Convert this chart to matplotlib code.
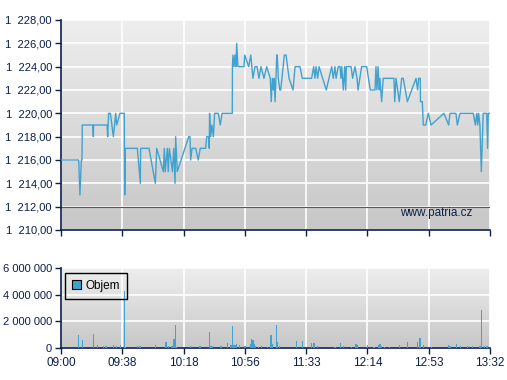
import numpy as np
import matplotlib
matplotlib.use("Agg")
import matplotlib.pyplot as plt
from matplotlib.colors import LinearSegmentedColormap
from matplotlib.patches import Patch

plt.rcParams['font.family'] = ['Liberation Sans', 'DejaVu Sans']

# minutes after 09:00 and last price
price_t = [0.0, 11.2, 12.0, 12.9, 13.3, 13.5, 20.1, 20.5, 20.7, 29.2, 29.6, 30.2, 31.3,
           33.2, 34.7, 35.3, 37.4, 40.1, 40.4, 40.8, 48.4, 50.3, 50.5, 55.8, 59.8, 60.7,
           64.9, 65.5, 66.1, 67.4, 68.0, 68.7, 69.7, 70.6, 71.5, 72.3, 72.7, 73.7, 81.0,
           81.8, 82.2, 83.1, 85.4, 87.0, 88.3, 91.7, 92.4, 93.6, 94.0, 94.2, 94.9, 95.7,
           96.6, 97.4, 99.7, 101.0, 102.1, 108.6, 108.7, 109.0, 109.7, 110.3, 110.9, 111.4,
           112.2, 116.0, 116.5, 119.0, 120.3, 121.7, 123.0, 124.3, 125.5, 126.8, 128.7,
           130.4, 132.7, 133.3, 134.0, 134.6, 135.2, 135.7, 136.3, 136.8, 137.1, 137.8,
           138.7, 139.3, 141.6, 142.7, 144.6, 147.1, 148.4, 149.4, 151.5, 153.0, 158.9,
           160.2, 161.0, 161.7, 162.7, 163.6, 168.2, 171.6, 172.6, 173.7, 174.4, 175.8,
           176.9, 177.5, 178.0, 179.0, 179.9, 180.5, 180.9, 183.9, 184.9, 186.4, 187.7,
           188.3, 190.6, 193.8, 196.1, 199.1, 199.7, 200.3, 201.0, 201.8, 202.2, 203.3,
           204.3, 211.1, 211.6, 212.4, 214.5, 216.0, 217.0, 219.6, 225.1, 226.1, 226.8,
           227.8, 227.9, 229.1, 229.7, 231.2, 232.9, 234.6, 242.8, 245.8, 246.6, 250.4,
           251.3, 253.0, 261.4, 262.7, 263.6, 264.2, 264.8, 265.6, 266.5, 267.7, 269.9,
           270.5, 270.9, 272.0]
price_v = [1216, 1216, 1213, 1216, 1216, 1219, 1219, 1218, 1219, 1219, 1218, 1220, 1220,
           1218, 1220, 1219, 1220, 1220, 1213, 1217, 1217, 1214, 1217, 1217, 1214, 1217,
           1215, 1217, 1215, 1217, 1215, 1217, 1216, 1215, 1217, 1214, 1218, 1215, 1218,
           1218, 1216, 1217, 1217, 1216, 1217, 1217, 1218, 1218, 1217, 1220, 1218, 1219,
           1218, 1220, 1220, 1219, 1220, 1220, 1224, 1225, 1224, 1225, 1224, 1226,
           1224, 1224, 1225, 1224, 1225, 1223, 1224, 1224, 1223, 1224, 1223,
           1224, 1223, 1221, 1223, 1222, 1223, 1221, 1223, 1225, 1225, 1223,
           1222, 1222, 1225, 1225, 1223, 1222, 1224, 1224, 1224, 1223, 1223,
           1224, 1223, 1224, 1223, 1224, 1222, 1224, 1223, 1224, 1223, 1224,
           1224, 1223, 1224, 1222, 1224, 1222, 1224, 1224, 1223, 1224, 1223,
           1222, 1224, 1224, 1222, 1222, 1224, 1222, 1224, 1222, 1223, 1221,
           1223, 1223, 1221, 1223, 1221, 1223, 1223, 1221, 1223, 1222, 1223,
           1223, 1221, 1221, 1219, 1219, 1220, 1219, 1220, 1219, 1220, 1220,
           1219, 1220, 1220, 1219, 1220, 1219, 1220, 1219, 1215, 1220, 1220,
           1217, 1220, 1220]

# minutes after 09:00 and traded volume
vol_t = [11.0, 13.5, 20.5, 23.0, 26.8, 28.5, 33.2, 35.3, 37.9, 40.1, 40.8, 48.4, 50.1,
         59.8, 66.6, 68.0, 70.4, 71.6, 72.5, 73.4, 82.0, 88.1, 94.0, 95.1, 96.2, 101.4,
         105.4, 107.8, 108.6, 109.2, 110.3, 111.1, 113.0, 116.7, 120.3, 120.9, 121.7,
         122.4, 123.0, 125.1, 127.2, 130.8, 133.1, 134.0, 136.5, 137.1, 138.4, 149.2,
         153.0, 158.9, 160.4, 162.5, 173.7, 177.1, 179.0, 184.3, 187.0, 188.1, 194.2,
         198.4, 201.2, 202.2, 203.3, 205.0, 208.1, 214.5, 219.6, 225.9, 227.6, 229.7,
         235.0, 245.6, 246.6, 250.9, 253.4, 257.6, 261.0, 265.6, 266.5, 268.4, 270.1]
vol_v = [1.0, 0.62, 1.07, 0.25, 0.12, 0.18, 0.25, 0.18, 0.25, 4.25, 0.1, 0.12, 0.18,
         0.25, 0.48, 0.18, 0.18, 0.7, 1.75, 0.1, 0.18, 0.12, 1.22, 0.18, 0.12, 0.18,
         0.4, 0.25, 1.68, 0.2, 0.25, 0.32, 0.25, 0.18, 0.3, 0.68, 0.58,
         0.3, 0.18, 0.1, 0.15, 0.1, 1.0, 0.32, 1.75, 0.48, 0.18, 0.55,
         0.55, 0.4, 0.4, 0.18, 0.08, 0.4, 0.18, 0.08, 0.32, 0.25, 0.25,
         0.1, 0.25, 0.32, 0.12, 0.08, 0.08, 0.25, 0.48, 0.48, 0.78, 0.25,
         0.08, 0.25, 0.18, 0.32, 0.18, 0.12, 0.12, 0.18, 2.83, 0.18, 0.18]
vol_v = [v * 1e6 for v in vol_v]

x_labels = ['09:00', '09:38', '10:18', '10:56', '11:33', '12:14', '12:53', '13:32']
price_ticks = list(range(1210, 1229, 2))
vol_ticks = [0, 2000000, 4000000, 6000000]
ref_price = 1212

navy = '#0b1f4b'
blue = '#42a2cf'
cmap = LinearSegmentedColormap.from_list('bg', ['#c7c7c7', '#eeeeee'])
span = 272.0
xt = np.linspace(0, span, len(x_labels))

fig = plt.figure(figsize=(5.07, 3.80), dpi=100)
ax1 = fig.add_axes([61/507, 1-230/380, 429/507, 210/380])
ax2 = fig.add_axes([61/507, 1-348/380, 429/507, 80/380])

grad = np.linspace(0, 1, 256).reshape(-1, 1)
for ax in (ax1, ax2):
    ax.imshow(grad, extent=[0, 1, 0, 1], transform=ax.transAxes, aspect='auto',
              cmap=cmap, origin='lower', zorder=0)
    ax.set_xlim(0, span)
    ax.set_xticks(xt)
    ax.grid(True, color='white', lw=1.2, zorder=1)
    for s in ('top', 'right'):
        ax.spines[s].set_visible(False)
    for s in ('left', 'bottom'):
        ax.spines[s].set_color(navy)
        ax.spines[s].set_linewidth(1.2)
    ax.tick_params(colors=navy, labelsize=8, length=4, width=1, direction='out', pad=2.5)

ax1.plot(price_t, price_v, color=blue, lw=1, zorder=3)
ax1.axhline(ref_price, color='#9a3a3a', lw=0.8, zorder=2)
ax1.set_ylim(1210, 1228)
ax1.set_yticks(price_ticks)
ax1.set_yticklabels([f"{v:,.2f}".replace(',', '  ').replace('.', ',') for v in price_ticks])
ax1.set_xticklabels([])
ax1.text(0.96, 0.08, 'www.patria.cz', transform=ax1.transAxes, ha='right', va='center',
         color=navy, fontsize=8.5, zorder=4)

ax2.bar(vol_t, vol_v, width=0.9, color=blue, zorder=3)
ax2.set_ylim(0, 6000000)
ax2.set_yticks(vol_ticks)
ax2.set_yticklabels([f"{v:,}".replace(',', ' ') for v in vol_ticks])
ax2.set_xticklabels(x_labels)
ax2.tick_params(axis='x', labelsize=8.5)

leg = ax2.legend(handles=[Patch(facecolor=blue, edgecolor='black', lw=0.8, label='Objem')],
                 loc='upper left', bbox_to_anchor=(0.009, 0.94), borderaxespad=0,
                 fontsize=8.5, fancybox=False, edgecolor='black',
                 handlelength=0.8, handleheight=0.8, handletextpad=0.35, borderpad=0.6)
frame = leg.get_frame()
frame.set_facecolor('none')
frame.set_edgecolor('black')
frame.set_alpha(None)
frame.set_linewidth(1)
for t in leg.get_texts():
    t.set_color('black')

fig.savefig('out.png', dpi=100, facecolor='white')
